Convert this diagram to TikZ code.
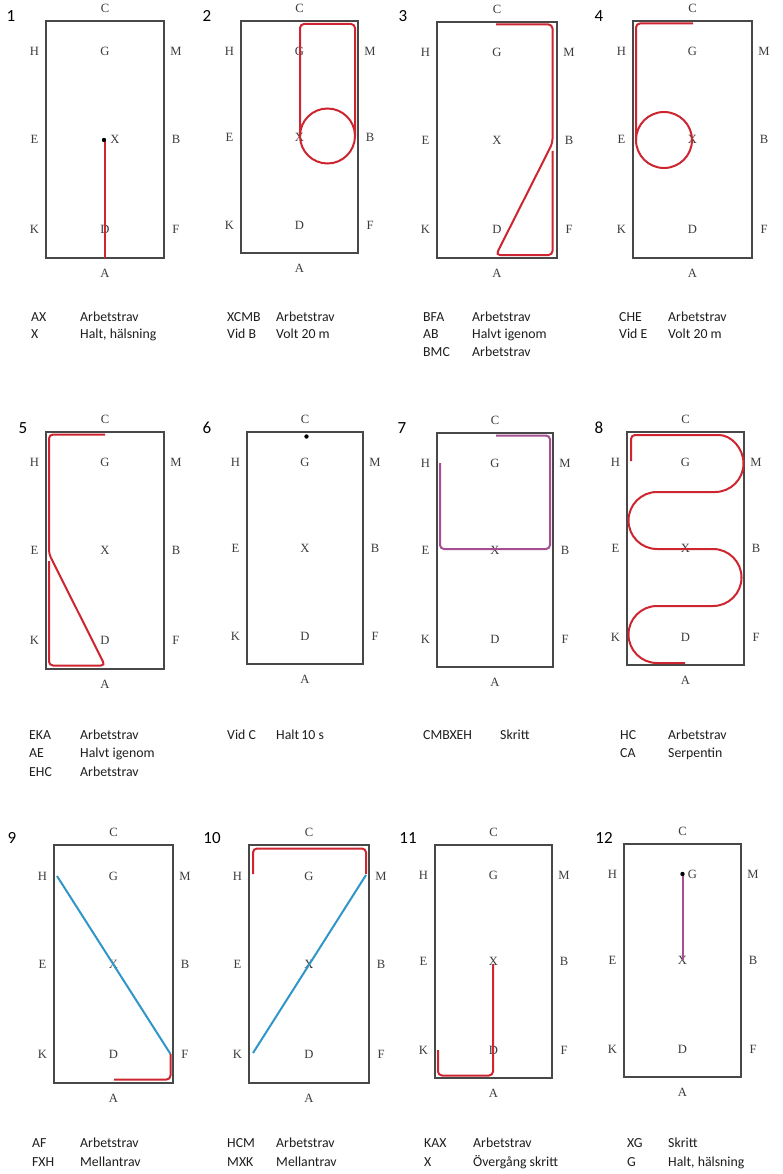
\documentclass[tikz,border=0pt]{standalone}
\usepackage{fontspec}
\setmainfont{Liberation Serif}
\newfontfamily\capfont{Carlito}
\definecolor{trackred}{RGB}{205,38,48}
\definecolor{trackpurple}{RGB}{165,78,145}
\definecolor{trackblue}{RGB}{48,150,200}
\definecolor{framegray}{RGB}{72,72,72}
\definecolor{labgray}{RGB}{60,60,60}
\definecolor{captext}{RGB}{30,30,30}
\tikzset{
  arenaframe/.style={draw=framegray,line width=1.3pt},
  lab/.style={inner sep=0pt,font=\fontsize{12.6}{12.6}\selectfont,text=labgray},
  num/.style={inner sep=0pt,font=\capfont\fontsize{17}{17}\selectfont,text=black},
  captxt/.style={inner sep=0pt,anchor=base west,font=\capfont\fontsize{13.8}{13.8}\selectfont,text=captext},
  redtrack/.style={draw=trackred,line width=2pt,rounded corners=4pt},
  purpletrack/.style={draw=trackpurple,line width=2pt,rounded corners=4pt},
  bluetrack/.style={draw=trackblue,line width=2pt},
  halt/.style={fill=black,draw=none}
}
\newcommand{\arena}[7]{%
  \pgfmathsetmacro\acx{(#2+#4)/2}%
  \pgfmathsetmacro\ayH{#3+0.13*(#5-#3)}%
  \pgfmathsetmacro\ayE{#3+0.5*(#5-#3)}%
  \pgfmathsetmacro\ayK{#3+0.88*(#5-#3)}%
  \draw[arenaframe] (#2,#3) rectangle (#4,#5);
  \node[lab] (#1C) at (\acx,#3-13) {C};
  \node[lab] (#1H) at (#2-11.5,\ayH) {H};
  \node[lab] (#1G) at (\acx+#6,\ayH) {G};
  \node[lab] (#1M) at (#4+12,\ayH) {M};
  \node[lab] (#1E) at (#2-11.5,\ayE) {E};
  \node[lab] (#1X) at (\acx+#7,\ayE) {X};
  \node[lab] (#1B) at (#4+12,\ayE) {B};
  \node[lab] (#1K) at (#2-11.5,\ayK) {K};
  \node[lab] (#1D) at (\acx,\ayK) {D};
  \node[lab] (#1F) at (#4+12,\ayK) {F};
  \node[lab] (#1A) at (\acx,#5+15) {A};
}
\begin{document}
\begin{tikzpicture}[x=1pt,y=-1pt]
\useasboundingbox[fill=white] (0,0) rectangle (782,1174);

% ---------- row 1 ----------
\node[num] (n1) at (11,16) {1};
\arena{p1}{46}{21}{164}{258}{0}{10}
\draw[redtrack] (105,140) -- (105,258);
\fill[halt] (104,140) circle[radius=2.2];
\node[captxt] (c1a) at (31,321) {AX};
\node[captxt] (c1b) at (80,321) {Arbetstrav};
\node[captxt] (c1c) at (31,338.5) {X};
\node[captxt] (c1d) at (80,338.5) {Halt, hälsning};

\node[num] (n2) at (207,16) {2};
\arena{p2}{241}{21}{358}{253}{0}{0}
\draw[redtrack] (300,136) -- (300,24) -- (355,24) -- (355,136);
\draw[draw=trackred,line width=2pt] (327.5,136) circle[radius=27.5];
\node[captxt] (c2a) at (227,321) {XCMB};
\node[captxt] (c2b) at (276,321) {Arbetstrav};
\node[captxt] (c2c) at (227,338.5) {Vid B};
\node[captxt] (c2d) at (276,338.5) {Volt 20 m};

\node[num] (n3) at (403,16) {3};
\arena{p3}{437}{22}{557}{258}{0}{0}
\draw[redtrack] (496,24.5) -- (552.5,24.5) -- (552.5,143) -- (496,255) -- (552.5,255) -- (552.5,151);
\node[captxt] (c3a) at (423,321) {BFA};
\node[captxt] (c3b) at (472,321) {Arbetstrav};
\node[captxt] (c3c) at (423,338.5) {AB};
\node[captxt] (c3d) at (472,338.5) {Halvt igenom};
\node[captxt] (c3e) at (423,356) {BMC};
\node[captxt] (c3f) at (472,356) {Arbetstrav};

\node[num] (n4) at (599,16) {4};
\arena{p4}{633}{21}{752}{258}{0}{0}
\draw[redtrack] (693,23.5) -- (636,23.5) -- (636,140);
\draw[draw=trackred,line width=2pt] (664,140) circle[radius=28];
\node[captxt] (c4a) at (619,321) {CHE};
\node[captxt] (c4b) at (668,321) {Arbetstrav};
\node[captxt] (c4c) at (619,338.5) {Vid E};
\node[captxt] (c4d) at (668,338.5) {Volt 20 m};

% ---------- row 2 ----------
\node[num] (n5) at (23,428) {5};
\arena{p5}{46}{432}{164}{669}{0}{0}
\draw[redtrack] (105,434.5) -- (49,434.5) -- (49,554) -- (105,665.5) -- (49,665.5) -- (49,561);
\node[captxt] (c5a) at (29,739) {EKA};
\node[captxt] (c5b) at (80,739) {Arbetstrav};
\node[captxt] (c5c) at (29,757.5) {AE};
\node[captxt] (c5d) at (80,757.5) {Halvt igenom};
\node[captxt] (c5e) at (29,776) {EHC};
\node[captxt] (c5f) at (80,776) {Arbetstrav};

\node[num] (n6) at (207,428) {6};
\arena{p6}{247}{432}{363}{664}{0}{0}
\fill[halt] (306.5,436.5) circle[radius=2.2];
\node[captxt] (c6a) at (227,739) {Vid C};
\node[captxt] (c6b) at (276,739) {Halt\,10 s};

\node[num] (n7) at (402,428) {7};
\arena{p7}{437}{433}{553}{667}{0}{0}
\draw[purpletrack] (496,435.5) -- (550,435.5) -- (550,549) -- (440,549) -- (440,463);
\node[captxt] (c7a) at (423,739) {CMBXEH};
\node[captxt] (c7b) at (500,739) {Skritt};

\node[num] (n8) at (599,428) {8};
\arena{p8}{627}{432}{744}{665}{0}{0}
\draw[draw=trackred,line width=2pt]
  (631,461) -- (631,439) [rounded corners=4pt] -- (631,435) -- (715,435) [sharp corners]
  arc[start angle=-90,end angle=90,radius=28.5] -- (657,492)
  arc[start angle=-90,end angle=-270,radius=28.5] -- (713,549)
  arc[start angle=-90,end angle=90,radius=28.5] -- (657,606)
  arc[start angle=-90,end angle=-270,radius=28.5] -- (685,663);
\node[captxt] (c8a) at (620,739) {HC};
\node[captxt] (c8b) at (668,739) {Arbetstrav};
\node[captxt] (c8c) at (620,757.5) {CA};
\node[captxt] (c8d) at (668,757.5) {Serpentin};

% ---------- row 3 ----------
\node[num] (n9) at (12,838) {9};
\arena{p9}{54}{845}{173}{1083}{0}{0}
\draw[bluetrack] (57,876) -- (170.5,1054);
\draw[redtrack] (114,1079.5) -- (170.5,1079.5) -- (170.5,1054);
\node[captxt] (c9a) at (32,1147) {AF};
\node[captxt] (c9b) at (80,1147) {Arbetstrav};
\node[captxt] (c9c) at (32,1166) {FXH};
\node[captxt] (c9d) at (80,1166) {Mellantrav};

\node[num] (n10) at (212,838) {10};
\arena{p10}{249}{845}{369}{1083}{0}{0}
\draw[redtrack] (253,874) -- (253,848.5) -- (366,848.5) -- (366,874);
\draw[bluetrack] (366,875) -- (253,1053);
\node[captxt] (c10a) at (227,1147) {HCM};
\node[captxt] (c10b) at (276,1147) {Arbetstrav};
\node[captxt] (c10c) at (227,1166) {MXK};
\node[captxt] (c10d) at (276,1166) {Mellantrav};

\node[num] (n11) at (408,838) {11};
\arena{p11}{435}{845}{552}{1078}{0}{0}
\draw[redtrack] (438,1050) -- (438,1075.5) -- (493,1075.5) -- (493,964);
\node[captxt] (c11a) at (424,1147) {KAX};
\node[captxt] (c11b) at (473,1147) {Arbetstrav};
\node[captxt] (c11c) at (424,1166) {X};
\node[captxt] (c11d) at (473,1166) {Övergång skritt};

\node[num] (n12) at (604,838) {12};
\arena{p12}{624}{844}{741}{1077}{10}{0}
\draw[purpletrack] (682.5,874) -- (682.5,960);
\fill[halt] (682.5,874) circle[radius=2.2];
\node[captxt] (c12a) at (627,1147) {XG};
\node[captxt] (c12b) at (668,1147) {Skritt};
\node[captxt] (c12c) at (627,1166) {G};
\node[captxt] (c12d) at (668,1166) {Halt, hälsning};
\end{tikzpicture}
\end{document}
